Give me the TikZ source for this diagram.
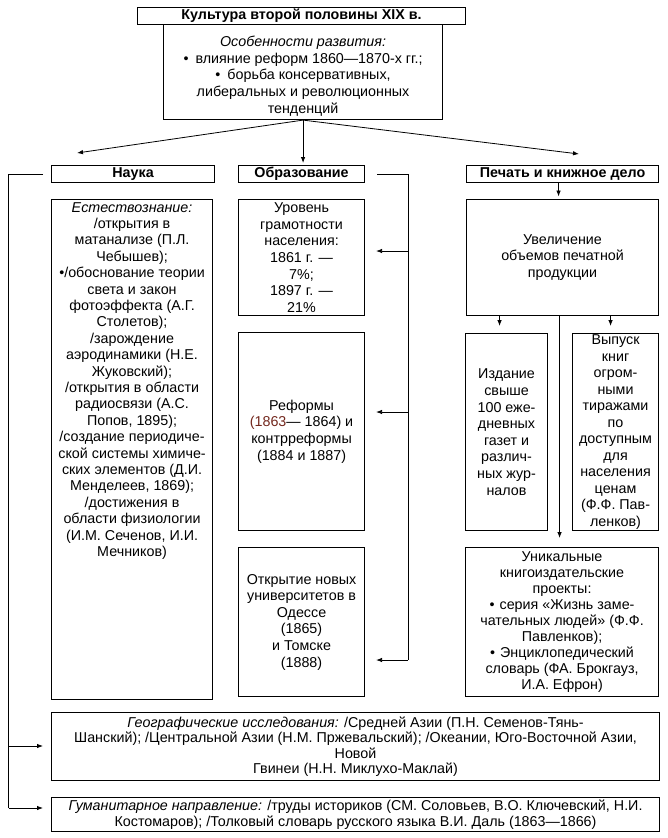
\documentclass[tikz,border=0pt]{standalone}
\usepackage{fontspec}
\setmainfont{Liberation Sans}
\usetikzlibrary{arrows.meta,calc}
\definecolor{redbrown}{RGB}{115,40,30}
\begin{document}
\begin{tikzpicture}[x=1pt,y=-1pt,
  box/.style={draw, line width=1.1pt, inner sep=0pt, anchor=north west, align=center,
              font=\fontsize{14.3}{16.6}\selectfont},
  txt/.style={inner sep=0pt, align=center, font=\fontsize{14.3}{16.4}\selectfont},
  hdr/.style={box, font=\bfseries\fontsize{14.3}{16}\selectfont},
  arr/.style={line width=0.8pt, -{Latex[length=6pt,width=4.5pt]}},
  ln/.style={line width=0.8pt}]
\useasboundingbox (0,0) rectangle (667,838);

% title and features
\node[hdr, minimum width=328, minimum height=17] (title) at (137,7) {Культура второй половины XIX в.};
\node[box, minimum width=279, minimum height=95] (feat) at (163,24) {};
\node[txt, font=\fontsize{14.3}{16.8}\selectfont] (featt) at ($(feat.center)+(0,4)$)
  {\textit{Особенности развития:}\\
   •\hspace{7pt}влияние реформ 1860—1870-х гг.;\\
   •\hspace{7pt}борьба консервативных,\\
   либеральных и революционных\\
   тенденций};

% headers
\node[hdr, minimum width=163, minimum height=17] (nauka) at (51,165) {Наука};
\node[hdr, minimum width=126, minimum height=17] (obr) at (238,165) {Образование};
\node[hdr, minimum width=192, minimum height=17] (pech) at (466,165) {Печать и книжное дело};

% top arrows
\coordinate (tipL) at (77,153);
\coordinate (tipR) at (579,154);
\draw[arr] (feat.south) -- (tipL);
\draw[arr] (feat.south) -- (tipR);
\draw[arr, shorten >=2pt] (feat.south) -- (feat.south |- obr.north);

% science column
\node[box, minimum width=161, minimum height=500] (est) at (51,199) {};
\node[txt, anchor=north] (estt) at ($(est.north)+(0,3)$)
  {\textit{Естествознание:}\\
   /открытия в\\
   матанализе (П.Л.\\
   Чебышев);\\
   •/обоснование теории\\
   света и закон\\
   фотоэффекта (А.Г.\\
   Столетов);\\
   /зарождение\\
   аэродинамики (Н.Е.\\
   Жуковский);\\
   /открытия в области\\
   радиосвязи (А.С.\\
   Попов, 1895);\\
   /создание периодиче-\\
   ской системы химиче-\\
   ских элементов (Д.И.\\
   Менделеев, 1869);\\
   /достижения в\\
   области физиологии\\
   (И.М. Сеченов, И.И.\\
   Мечников)};

% education column
\node[box, minimum width=126, minimum height=116] (uroven) at (238,199)
  {Уровень\\ грамотности\\ населения:\\ 1861 г. —\\ 7\%;\\ 1897 г. —\\ 21\%};
\node[box, minimum width=126, minimum height=198] (reform) at (238,332)
  {Реформы\\ {\color{redbrown}(1863}— 1864) и\\ контрреформы\\ (1884 и 1887)};
\node[box, minimum width=126, minimum height=149] (univ) at (238,547)
  {Открытие новых\\ университетов в\\ Одессе\\ (1865)\\ и Томске\\ (1888)};

% press column
\node[box, minimum width=192, minimum height=116] (uvel) at (466,199)
  {Увеличение\\ объемов печатной\\ продукции};
\node[box, minimum width=82, minimum height=197] (izd) at (465,333)
  {Издание\\ свыше\\ 100 еже-\\ дневных\\ газет и\\ различ-\\ ных жур-\\ налов};
\node[box, minimum width=86, minimum height=197, font=\fontsize{14.3}{16.5}\selectfont] (vyp) at (572,333)
  {Выпуск\\ книг\\ огром-\\ ными\\ тиражами\\ по\\ доступным\\ для\\ населения\\ ценам\\ (Ф.Ф. Пав-\\ ленков)};
\node[box, minimum width=193, minimum height=149, font=\fontsize{14.3}{16.1}\selectfont] (unik) at (465,547)
  {Уникальные\\ книгоиздательские\\ проекты:\\
   •\hspace{5pt}серия «Жизнь заме-\\ чательных людей» (Ф.Ф.\\ Павленков);\\
   •\hspace{5pt}Энциклопедический\\ словарь (ФА. Брокгауз,\\ И.А. Ефрон)};

% bottom boxes
\node[box, minimum width=608, minimum height=68, font=\fontsize{14.3}{15.5}\selectfont] (geo) at (51,712)
  {\textit{Географические исследования:} /Средней Азии (П.Н. Семенов-Тянь-\\
   Шанский); /Центральной Азии (Н.М. Пржевальский); /Океании, Юго-Восточной Азии,\\
   Новой\\
   Гвинеи (Н.Н. Миклухо-Маклай)};
\node[box, minimum width=608, minimum height=34, font=\fontsize{14.3}{15.5}\selectfont] (gum) at (51,797)
  {\textit{Гуманитарное направление:} /труды историков (СМ. Соловьев, В.О. Ключевский, Н.И.\\
   Костомаров); /Толковый словарь русского языка В.И. Даль (1863—1866)};

% left bracket
\coordinate (lg) at (8.5,746);
\coordinate (lm) at (8.5,808);
\draw[ln] ($(nauka.west)+(-8,0)$) -| (lm);
\draw[arr, shorten >=8pt] (lg) -- (geo.west |- lg);
\draw[arr, shorten >=8pt] (lm) -- (gum.west |- lm);

% education bracket
\coordinate (r1) at (408,251);
\coordinate (r2) at (408,412);
\coordinate (r3) at (408,660);
\draw[ln] ($(obr.east)+(12,0)$) -| (r3);
\draw[arr, shorten >=11pt] (r1) -- (uroven.east |- r1);
\draw[arr, shorten >=11pt] (r2) -- (reform.east |- r2);
\draw[arr, shorten >=11pt] (r3) -- (univ.east |- r3);

% press arrows
\coordinate (p0) at ($(pech.south)+(-4,0)$);
\draw[arr, shorten >=2.5pt] (p0) -- (p0 |- uvel.north);
\coordinate (u1) at ($(uvel.south)+(-63,0)$);
\coordinate (u2) at ($(uvel.south)+(48,0)$);
\coordinate (u3) at ($(uvel.south)+(-3,0)$);
\draw[arr, shorten >=7pt] (u1) -- (u1 |- izd.north);
\draw[arr, shorten >=7pt] (u2) -- (u2 |- vyp.north);
\draw[arr, shorten >=9pt] (u3) -- (u3 |- unik.north);
\end{tikzpicture}
\end{document}
